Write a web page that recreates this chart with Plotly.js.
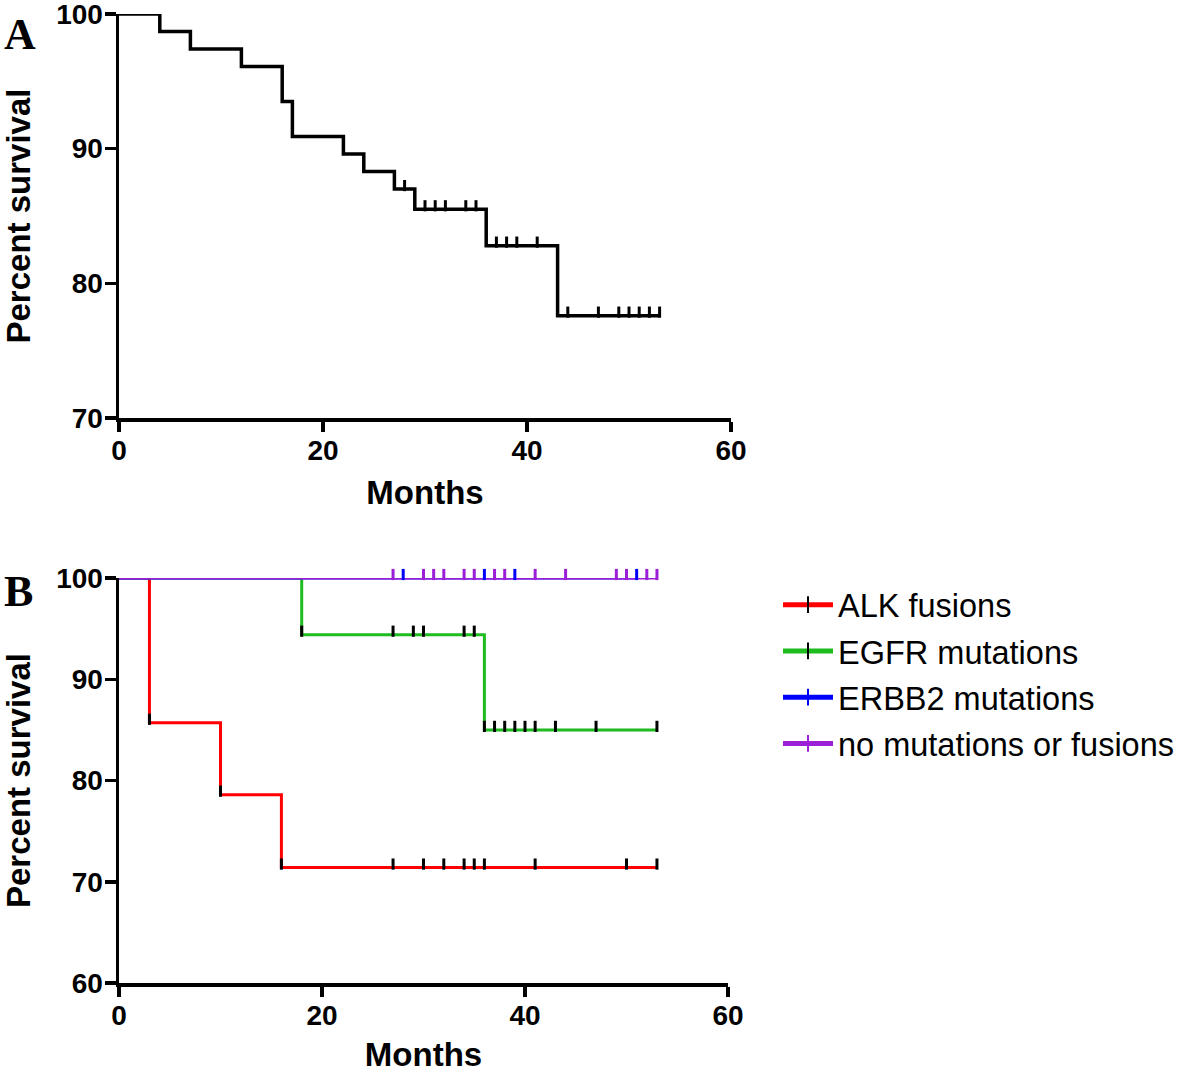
<!DOCTYPE html>
<html>
<head>
<meta charset="utf-8">
<script src="https://cdn.plot.ly/plotly-3.0.1.min.js"></script>
<style>html,body{margin:0;padding:0;background:#fff;}#chart{width:1181px;height:1073px;}</style>
</head>
<body>
<div id="chart"></div>
<script>
// ---------- Data ----------
// Panel A: overall survival
const aTimes = [0, 4, 7, 12, 16, 17, 22, 24, 27, 29, 36, 43, 53];
const aSurv  = [100, 98.7, 97.4, 96.1, 93.5, 90.9, 89.6, 88.3, 87.0, 85.5, 82.8, 77.6, 77.6];
const aCensor = [28, 30, 31, 32, 34, 35, 37, 38, 39, 41, 44, 47, 49, 50, 51, 52, 53];

// Panel B: by molecular group
const groupNames = ["ALK fusions", "EGFR mutations", "ERBB2 mutations", "no mutations or fusions"];
const alkTimes = [0, 3, 10, 16, 53];
const alkSurv  = [100, 85.7, 78.6, 71.4, 71.4];
const alkCensor = [3, 10, 16, 27, 30, 32, 34, 35, 36, 41, 50, 53];
const egfrTimes = [0, 18, 36, 53];
const egfrSurv  = [100, 94.4, 85.0, 85.0];
const egfrCensor = [18, 27, 29, 30, 34, 35, 36, 37, 38, 39, 40, 41, 43, 47, 53];
const erbbTimes = [0, 51];
const erbbSurv  = [100, 100];
const erbbCensor = [28, 36, 39, 51];
const noneTimes = [0, 53];
const noneSurv  = [100, 100];
const noneCensor = [27, 30, 31, 32, 34, 35, 37, 38, 41, 44, 49, 50, 52, 53];

const xTicks = [0, 20, 40, 60];

// ---------- Helpers ----------
function survAt(times, surv, t) {
  let s = surv[0];
  for (let i = 0; i < times.length; i++) { if (times[i] <= t) s = surv[i]; }
  return s;
}
const FONT = "Liberation Sans, Arial, Helvetica, sans-serif";
const W = 1181, H = 1073;
const ML = 119, MR = 450, MT = 14, MB = 90;
const PW = W - ML - MR, PH = H - MT - MB;
const px2x = p => (p - ML) / PW;
const py2y = p => 1 - (p - MT) / PH;

function curve(times, surv, color, width, name, tickColor, xa, ya, showLeg) {
  return {
    type: "scatter", mode: "lines+markers", x: times, y: surv, xaxis: xa, yaxis: ya,
    name: name || "", showlegend: !!showLeg, legendgroup: name || "overall",
    line: {shape: "hv", color: color, width: width},
    marker: {symbol: "line-ns", size: 0.001, color: tickColor, line: {color: tickColor, width: 3}},
    hoverinfo: "skip", cliponaxis: false
  };
}
function censors(times, surv, cens, tickColor, xa, ya) {
  return {
    type: "scatter", mode: "markers", x: cens, y: cens.map(t => survAt(times, surv, t)),
    xaxis: xa, yaxis: ya, showlegend: false, hoverinfo: "skip", cliponaxis: false,
    marker: {symbol: "line-ns", size: 8, angle: 180, standoff: 3.5, color: tickColor,
             line: {color: tickColor, width: 3}}
  };
}

const RED = "#ff0000", GREEN = "#1ebc1e", BLUE = "#0000ff", PURPLE = "#9b1fd6";

const traces = [
  curve(aTimes, aSurv, "#000", 3.5, "", "#000", "x", "y", false),
  censors(aTimes, aSurv, aCensor, "#000", "x", "y"),
  curve(alkTimes, alkSurv, RED, 3, groupNames[0], "#000", "x2", "y2", true),
  curve(egfrTimes, egfrSurv, GREEN, 3, groupNames[1], "#000", "x2", "y2", true),
  curve(erbbTimes, erbbSurv, BLUE, 3, groupNames[2], BLUE, "x2", "y2", true),
  curve(noneTimes, noneSurv, PURPLE, 3, groupNames[3], PURPLE, "x2", "y2", true),
  censors(alkTimes, alkSurv, alkCensor, "#000", "x2", "y2"),
  censors(egfrTimes, egfrSurv, egfrCensor, "#000", "x2", "y2"),
  censors(erbbTimes, erbbSurv, erbbCensor, BLUE, "x2", "y2"),
  censors(noneTimes, noneSurv, noneCensor, PURPLE, "x2", "y2")
];

function xAxis(domainEnd, anchor) {
  return {
    domain: [0, domainEnd], anchor: anchor, range: [0, 60], tickvals: xTicks,
    ticks: "outside", ticklen: 10, tickwidth: 3.5, tickcolor: "#000",
    showline: true, linewidth: 3.5, linecolor: "#000", showgrid: false, zeroline: false,
    ticklabeloverflow: "allow", ticklabelstandoff: -5,
    tickfont: {family: FONT, size: 28, weight: "bold", color: "#000"},
    title: {text: "Months", font: {family: FONT, size: 33, weight: "bold", color: "#000"}, standoff: 17}
  };
}
function yAxis(domain, anchor, range) {
  return {
    domain: domain, anchor: anchor, range: range, dtick: 10,
    ticks: "outside", ticklen: 11, tickwidth: 3.5, tickcolor: "#000",
    showline: true, linewidth: 3.5, linecolor: "#000", showgrid: false, zeroline: false,
    ticklabeloverflow: "allow", ticklabelstandoff: -4,
    tickfont: {family: FONT, size: 28, weight: "bold", color: "#000"},
    title: {text: "Percent survival", font: {family: FONT, size: 33, weight: "bold", color: "#000"}, standoff: 18}
  };
}

const layout = {
  width: W, height: H,
  margin: {l: ML, r: MR, t: MT, b: MB},
  paper_bgcolor: "#fff", plot_bgcolor: "#fff",
  showlegend: true,
  xaxis: xAxis(1, "y"),
  yaxis: yAxis([py2y(418), 1], "x", [70, 100]),
  xaxis2: xAxis(px2x(728), "y2"),
  yaxis2: yAxis([0, py2y(578)], "x2", [60, 100]),
  legend: {
    xref: "container", yref: "container",
    x: 778 / W, y: 1 - 577 / H, xanchor: "left", yanchor: "top",
    font: {family: FONT, size: 32.5, color: "#000"}, bgcolor: "rgba(0,0,0,0)",
    itemsizing: "constant", itemwidth: 50, traceorder: "grouped", tracegroupgap: 1
  },
  annotations: [
    {text: "A", xref: "paper", yref: "paper", x: px2x(2), y: py2y(8), xanchor: "left", yanchor: "top",
     showarrow: false, font: {family: "Liberation Serif, Times New Roman, serif", size: 44, weight: "bold", color: "#000"}},
    {text: "B", xref: "paper", yref: "paper", x: px2x(2), y: py2y(565), xanchor: "left", yanchor: "top",
     showarrow: false, font: {family: "Liberation Serif, Times New Roman, serif", size: 44, weight: "bold", color: "#000"}}
  ]
};

Plotly.newPlot("chart", traces, layout, {displayModeBar: false, staticPlot: true});
</script>
</body>
</html>
